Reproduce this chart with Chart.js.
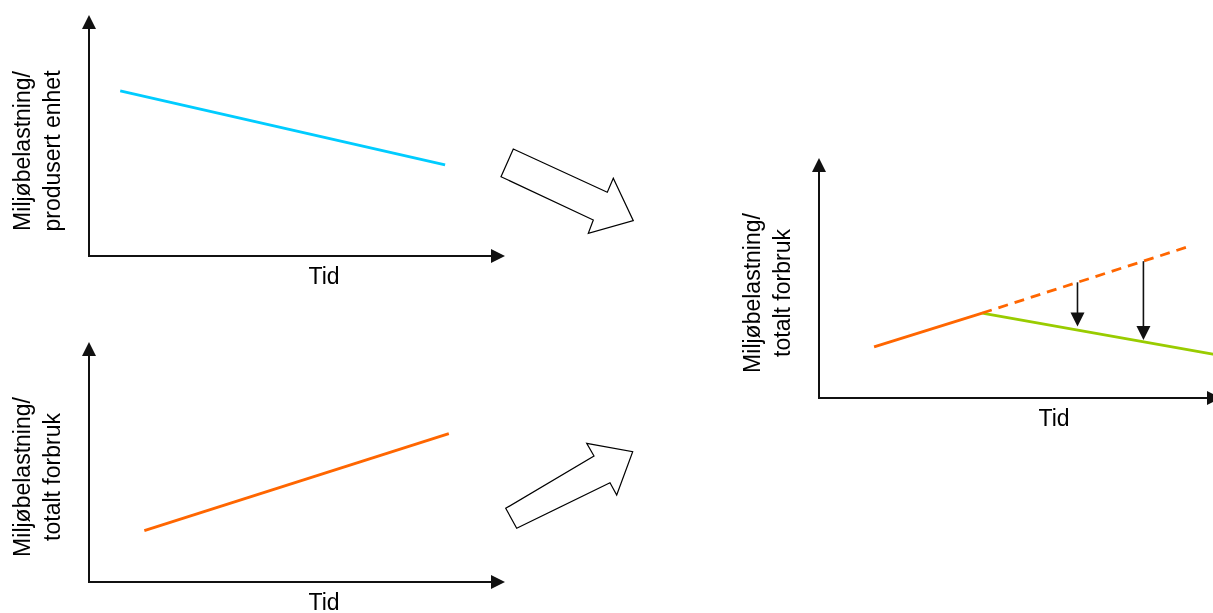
<!DOCTYPE html>
<html lang="no">
<head>
  <meta charset="UTF-8">
  <title>Miljøbelastning over tid</title>
  <script src="https://cdn.jsdelivr.net/npm/chart.js"></script>
  <style>
    html, body { margin: 0; padding: 0; background: #fff; }
    body { position: relative; width: 1213px; height: 613px; overflow: hidden; }
    canvas, svg { position: absolute; }
  </style>
</head>
<body>
  <canvas id="perUnit" width="520" height="300" style="left:0;top:0"></canvas>
  <canvas id="totalUse" width="520" height="293" style="left:0;top:320px"></canvas>
  <canvas id="combined" width="500" height="300" style="left:730px;top:140px"></canvas>
  <!-- the two hollow block arrows between the panels -->
  <svg width="1213" height="613" style="left:0;top:0" fill="#fff" stroke="#000" stroke-width="1.2">
    <polygon points="513.3,149 501,176.7 593.3,220 588.3,233.3 633.3,220.7 613.3,178.3 607.3,192.3"/>
    <polygon points="505.7,508.3 516.7,528.3 610,482.7 616.7,495 632.7,451.7 586.7,443.3 594,456"/>
  </svg>
  <script>
    // x = time (0..10), y = environmental load (0..10)
    const yLabelUnit = ['Miljøbelastning/', 'produsert enhet'];
    const yLabelTotal = ['Miljøbelastning/', 'totalt forbruk'];
    const xLabel = 'Tid';

    const unitX = [0.75, 8.56];
    const unitY = [6.85, 3.78];

    const totalX = [1.33, 8.65];
    const totalY = [2.14, 6.18];

    const pastX = [1.37, 4.06];
    const pastY = [2.13, 3.54];
    const trendX = [4.06, 9.27];
    const trendY = [3.54, 6.35];
    const improvedX = [4.06, 9.9];
    const improvedY = [3.54, 1.80];

    const dropX = [6.43, 8.07];
    const dropFrom = [4.82, 5.70];
    const dropTo = [2.98, 2.42];

    const pts = (xs, ys) => xs.map((x, i) => ({ x: x, y: ys[i] }));

    const FONT = '23px "Liberation Sans", Arial, sans-serif';

    // axes with arrow heads, axis labels and the down arrows
    const diagram = {
      id: 'diagram',
      afterDraw(chart, args, opts) {
        const ctx = chart.ctx;
        const a = chart.chartArea;
        const head = 13;
        ctx.save();
        ctx.strokeStyle = '#111';
        ctx.fillStyle = '#111';
        ctx.lineWidth = 2;
        ctx.beginPath();
        ctx.moveTo(a.left, a.top + head);
        ctx.lineTo(a.left, a.bottom);
        ctx.lineTo(a.right - head, a.bottom);
        ctx.stroke();
        ctx.beginPath();
        ctx.moveTo(a.left, a.top);
        ctx.lineTo(a.left - 7, a.top + head + 1);
        ctx.lineTo(a.left + 7, a.top + head + 1);
        ctx.closePath();
        ctx.fill();
        ctx.beginPath();
        ctx.moveTo(a.right, a.bottom);
        ctx.lineTo(a.right - head - 1, a.bottom - 7);
        ctx.lineTo(a.right - head - 1, a.bottom + 7);
        ctx.closePath();
        ctx.fill();

        // down arrows from trend to improved line
        const xs = chart.scales.x, ys = chart.scales.y;
        (opts.drops || []).forEach(d => {
          const px = xs.getPixelForValue(d.x);
          const y0 = ys.getPixelForValue(d.from);
          const y1 = ys.getPixelForValue(d.to);
          ctx.lineWidth = 1.6;
          ctx.beginPath();
          ctx.moveTo(px, y0);
          ctx.lineTo(px, y1 - 12);
          ctx.stroke();
          ctx.beginPath();
          ctx.moveTo(px, y1);
          ctx.lineTo(px - 7, y1 - 14);
          ctx.lineTo(px + 7, y1 - 14);
          ctx.closePath();
          ctx.fill();
        });

        ctx.fillStyle = '#000';
        ctx.font = FONT;
        ctx.textAlign = 'center';
        ctx.textBaseline = 'alphabetic';
        ctx.fillText(xLabel, a.left + 235, a.bottom + 28);
        ctx.translate(a.left - 59, a.bottom - 105);
        ctx.rotate(-Math.PI / 2);
        opts.yLabel.forEach((line, i) => ctx.fillText(line, 0, i * 30));
        ctx.restore();
      }
    };

    const makeChart = (id, padding, datasets, yLabel, drops) => new Chart(document.getElementById(id), {
      type: 'line',
      data: { datasets: datasets },
      options: {
        responsive: false,
        animation: false,
        layout: { padding: padding },
        elements: { point: { radius: 0 }, line: { borderWidth: 2.8, tension: 0 } },
        scales: {
          x: { type: 'linear', min: 0, max: 10, display: false },
          y: { min: 0, max: 10, display: false }
        },
        plugins: {
          legend: { display: false },
          tooltip: { enabled: false },
          diagram: { yLabel: yLabel, drops: drops }
        }
      },
      plugins: [diagram]
    });

    makeChart('perUnit', { left: 89, top: 15, right: 15, bottom: 44 }, [
      { data: pts(unitX, unitY), borderColor: '#00CCFF' }
    ], yLabelUnit, []);

    makeChart('totalUse', { left: 89, top: 22, right: 15, bottom: 31 }, [
      { data: pts(totalX, totalY), borderColor: '#FF6600' }
    ], yLabelTotal, []);

    makeChart('combined', { left: 89, top: 18, right: 9, bottom: 42 }, [
      { data: pts(pastX, pastY), borderColor: '#FF6600' },
      { data: pts(trendX, trendY), borderColor: '#FF6600', borderDash: [10, 7] },
      { data: pts(improvedX, improvedY), borderColor: '#99CC00' }
    ], yLabelTotal, dropX.map((x, i) => ({ x: x, from: dropFrom[i], to: dropTo[i] })));
  </script>
</body>
</html>
